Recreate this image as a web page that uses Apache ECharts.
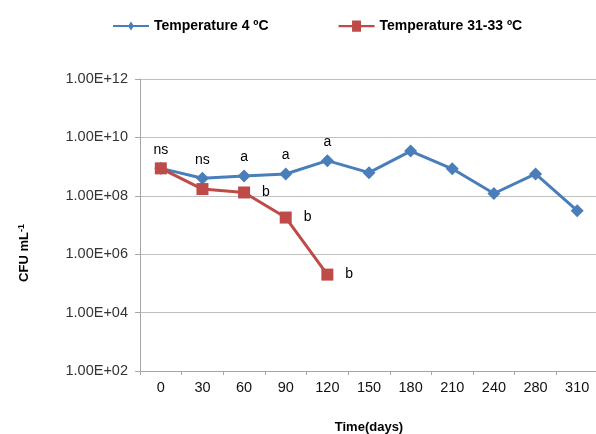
<!DOCTYPE html>
<html><head><meta charset="utf-8">
<script src="https://cdn.jsdelivr.net/npm/echarts@6/dist/echarts.min.js"></script>
<style>html,body{margin:0;padding:0;background:#fff}#c{width:596px;height:434px}</style>
</head><body><div id="c"></div>
<script>
const categories = ['0','30','60','90','120','150','180','210','240','280','310'];
const temp4 = [8.7e8, 4.0e8, 4.8e8, 5.6e8, 1.6e9, 6.2e8, 3.4e9, 8.4e8, 1.2e8, 5.6e8, 3.1e7];
const temp31 = [8.7e8, 1.7e8, 1.3e8, 1.8e7, 2.0e5];
const labels4 = ['ns','ns','a','a','a','','','','','',''];
const labels31 = ['','','b','b','b'];
const yTicks = [1e2, 1e4, 1e6, 1e8, 1e10, 1e12];

const FONT = 'Liberation Sans, Arial, sans-serif';
const chart = echarts.init(document.getElementById('c'));
chart.setOption({
  animation: false,
  textStyle: {fontFamily: FONT},
  legend: {
    top: 14, left: 108, itemGap: 70, itemWidth: 36, itemHeight: 12,
    textStyle: {fontSize: 14, fontWeight: 'bold', color: '#000', fontFamily: FONT},
    data: [{name: 'Temperature 4 ºC', icon: 'path://M0,5.2L14,5.2L16,2L18,5.2L32,5.2L32,6.8L18,6.8L16,10L14,6.8L0,6.8Z'},
           {name: 'Temperature 31-33 ºC', icon: 'path://M0,5L12,5L12,1L20,1L20,5L32,5L32,7L20,7L20,11L12,11L12,7L0,7Z'}]
  },
  grid: {left: 140, right: -2, top: 79, bottom: 63, containLabel: false, outerBoundsMode: 'none'},
  graphic: [{
    type: 'text', x: 24, y: 253, rotation: Math.PI / 2,
    style: {
      text: '{b|CFU mL}{s|-1}', align: 'center', verticalAlign: 'middle',
      rich: {b: {fontSize: 13, fontWeight: 'bold', fill: '#000', fontFamily: FONT},
             s: {fontSize: 9, fontWeight: 'bold', fill: '#000', fontFamily: FONT, verticalAlign: 'top', lineHeight: 10}}
    }
  }],
  xAxis: {
    type: 'category', data: categories, boundaryGap: true,
    name: 'Time(days)', nameLocation: 'middle', nameGap: 50,
    nameTextStyle: {fontSize: 13, fontWeight: 'bold', color: '#000'},
    axisLine: {lineStyle: {color: '#a6a6a6', width: 1}},
    axisTick: {show: true, length: 4, lineStyle: {color: '#a6a6a6'}},
    axisLabel: {fontSize: 14.5, color: '#111', margin: 9}
  },
  yAxis: {
    type: 'log', logBase: 100, min: yTicks[0], max: yTicks[yTicks.length-1],
    axisLine: {show: true, lineStyle: {color: '#a6a6a6', width: 1}},
    axisTick: {show: true, length: 5, lineStyle: {color: '#a6a6a6'}},
    minorTick: {show: false},
    splitLine: {show: true, lineStyle: {color: '#c0c0c0', width: 1}},
    axisLabel: {fontSize: 14.5, color: '#333', margin: 12,
      formatter: v => v.toExponential(2).toUpperCase().replace(/E\+(\d)$/, 'E+0$1')}
  },
  series: [
    {name: 'Temperature 4 ºC', type: 'line', data: temp4,
     symbol: 'diamond', symbolSize: 13,
     lineStyle: {color: '#4a7ebb', width: 3}, itemStyle: {color: '#4a7ebb'},
     label: {show: true, position: 'top', distance: 5, fontSize: 14, color: '#000',
       formatter: p => labels4[p.dataIndex]}, z: 2},
    {name: 'Temperature 31-33 ºC', type: 'line', data: temp31,
     symbol: 'rect', symbolSize: 12,
     lineStyle: {color: '#be4b48', width: 3}, itemStyle: {color: '#be4b48'},
     label: {show: true, position: 'right', distance: 12, fontSize: 14, color: '#000',
       formatter: p => labels31[p.dataIndex]}, z: 3}
  ]
});
</script></body></html>
